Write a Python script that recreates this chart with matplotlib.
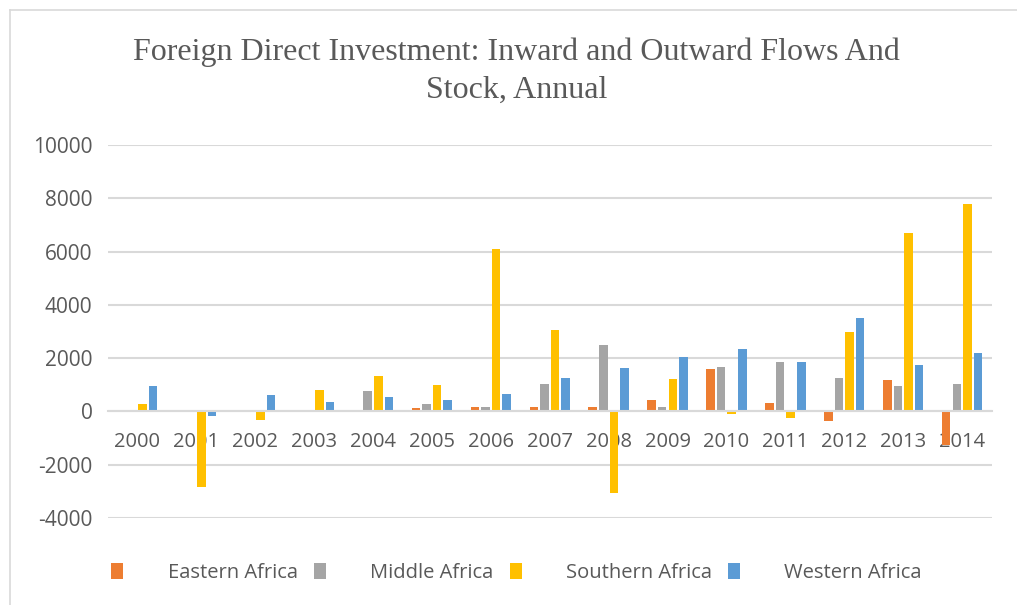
import numpy as np
import matplotlib
matplotlib.use("Agg")
import matplotlib.pyplot as plt
from matplotlib.lines import Line2D

years = ["2000", "2001", "2002", "2003", "2004", "2005", "2006", "2007",
         "2008", "2009", "2010", "2011", "2012", "2013", "2014"]
eastern = [0, 0, 0, 0, 0, 130, 180, 150, 180, 440, 1600, 300, -370, 1190, -1250]
middle = [0, 0, 0, 60, 750, 290, 150, 1040, 2500, 180, 1680, 1860, 1240, 940, 1040]
southern = [270, -2830, -340, 800, 1330, 980, 6110, 3040, -3060, 1220, -90, -250, 2990, 6700, 7790]
western = [950, -180, 620, 360, 540, 410, 660, 1260, 1640, 2050, 2340, 1860, 3510, 1740, 2200]

series = ["Eastern Africa", "Middle Africa", "Southern Africa", "Western Africa"]
colors = ["#ED7D31", "#A5A5A5", "#FFC000", "#5B9BD5"]
yticks = [-4000, -2000, 0, 2000, 4000, 6000, 8000, 10000]

label_font = ["Open Sans", "DejaVu Sans"]
grey_txt = "#595959"

fig = plt.figure(figsize=(10.17, 6.05), dpi=100)
ax = fig.add_axes([0.106, 0.144, 0.869, 0.616])

x = np.arange(len(years))
step, width = 0.18, 0.145
for i, (vals, c, name) in enumerate(zip([eastern, middle, southern, western], colors, series)):
    ax.bar(x + (i - 1.5) * step, vals, width, color=c, label=name, zorder=2)

ax.set_xlim(-0.5, len(years) - 0.5)
ax.set_ylim(-4000, 10000)
ax.set_yticks(yticks)
ax.set_yticklabels([str(v) for v in yticks], family=label_font, fontsize=15, color=grey_txt)
ax.grid(axis="y", color="#d9d9d9", lw=1.5, zorder=0)
ax.set_axisbelow(True)
for s in ["top", "right", "left"]:
    ax.spines[s].set_visible(False)
ax.spines["bottom"].set_position(("data", 0))
ax.spines["bottom"].set_color("#d9d9d9")
ax.spines["bottom"].set_linewidth(1.5)
ax.set_xticks(x)
ax.set_xticklabels(years, family=label_font, fontsize=14.5, color=grey_txt)
ax.tick_params(axis="both", length=0)
ax.tick_params(axis="x", pad=15)
ax.tick_params(axis="y", pad=11)

fig.text(0.508, 0.882, "Foreign Direct Investment: Inward and Outward Flows And\nStock, Annual",
         ha="center", va="center", family="Liberation Serif", fontsize=23,
         color=grey_txt, linespacing=1.4)

leg = ax.legend(loc="center", bbox_to_anchor=(0.508, 0.053), bbox_transform=fig.transFigure,
                ncol=4, frameon=False, handlelength=0.6, handleheight=0.9,
                handletextpad=2.2, columnspacing=0.8,
                prop={"family": label_font, "size": 14.5})
for t in leg.get_texts():
    t.set_color(grey_txt)

# chart-area frame
fig.add_artist(Line2D([10 / 1017, 1.0], [1 - 10 / 605, 1 - 10 / 605], color="#d9d9d9", lw=1.2))
fig.add_artist(Line2D([10 / 1017, 10 / 1017], [0.0, 1 - 10 / 605], color="#d9d9d9", lw=1.2))

fig.savefig("out.png", dpi=100)
